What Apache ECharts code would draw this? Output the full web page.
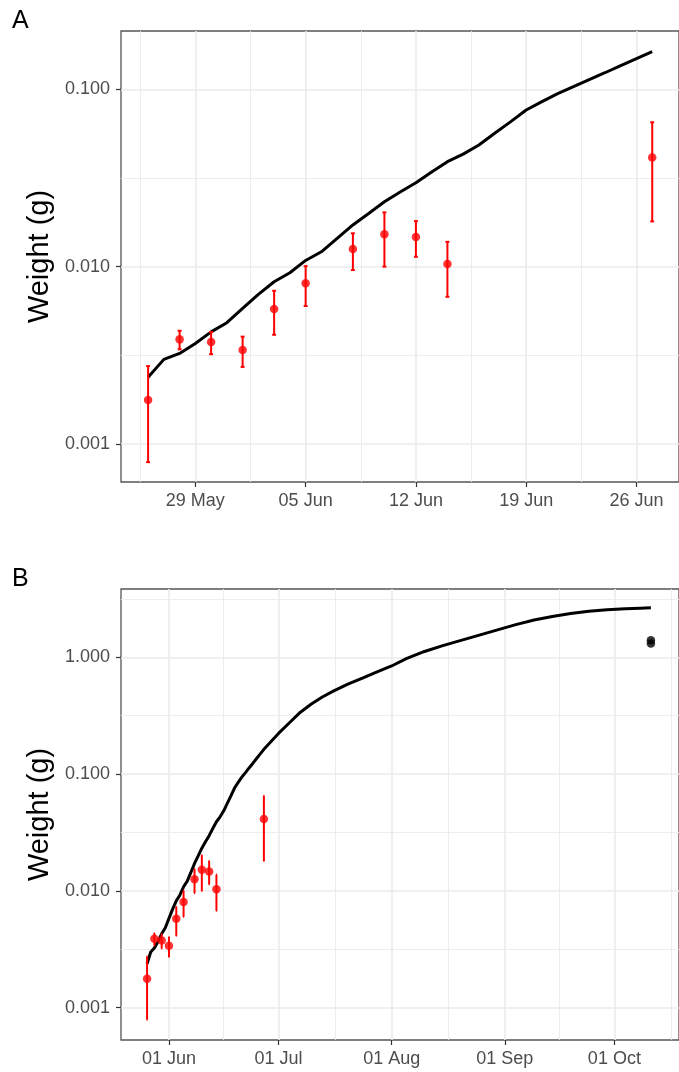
<!DOCTYPE html>
<html><head><meta charset="utf-8">
<script src="https://cdn.jsdelivr.net/npm/echarts@6/dist/echarts.min.js"></script>
<style>html,body{margin:0;padding:0;background:#fff}#c{width:679px;height:1072px}</style>
</head><body><div id="c"></div>
<script>
// ---- data ----
const lineDates = ['2014-05-26','2014-05-27','2014-05-28','2014-05-29','2014-05-30','2014-05-31','2014-06-01','2014-06-02','2014-06-03','2014-06-04','2014-06-05','2014-06-06','2014-06-07','2014-06-08','2014-06-09','2014-06-10','2014-06-11','2014-06-12','2014-06-13','2014-06-14','2014-06-15','2014-06-16','2014-06-17','2014-06-18','2014-06-19','2014-06-20','2014-06-21','2014-06-22','2014-06-23','2014-06-24','2014-06-25','2014-06-26','2014-06-27','2014-07-01','2014-07-04','2014-07-07','2014-07-10','2014-07-13','2014-07-16','2014-07-20','2014-07-24','2014-07-28','2014-08-01','2014-08-05','2014-08-10','2014-08-15','2014-08-20','2014-08-25','2014-08-30','2014-09-04','2014-09-09','2014-09-14','2014-09-19','2014-09-24','2014-09-29','2014-10-04','2014-10-08','2014-10-11'];
const lineValues = [0.00238,0.00300,0.00324,0.00369,0.00429,0.00483,0.00582,0.00698,0.00822,0.00924,0.01084,0.01213,0.01442,0.01718,0.01995,0.02323,0.02636,0.02972,0.0342,0.0391,0.0431,0.0485,0.0565,0.0655,0.0764,0.0853,0.0946,0.1036,0.1135,0.124,0.136,0.149,0.163,0.223,0.275,0.339,0.398,0.457,0.513,0.589,0.664,0.75,0.843,0.973,1.122,1.259,1.396,1.549,1.718,1.905,2.089,2.239,2.371,2.483,2.559,2.606,2.636,2.655];
const pointDates = ['2014-05-26','2014-05-28','2014-05-30','2014-06-01','2014-06-03','2014-06-05','2014-06-08','2014-06-10','2014-06-12','2014-06-14','2014-06-27'];
const pointMeans = [0.00177,0.00389,0.00376,0.00339,0.00577,0.00805,0.01256,0.01521,0.01469,0.01035,0.0413];
const pointLower = [0.00079,0.00342,0.00321,0.00272,0.00413,0.00600,0.00957,0.01000,0.01137,0.00676,0.0180];
const pointUpper = [0.00275,0.00435,0.00428,0.00403,0.00731,0.01007,0.01542,0.02023,0.01807,0.01380,0.0652];
const obsDates = ['2014-10-11','2014-10-11'];
const obsValues = [1.40, 1.31];
const panelAEnd = '2014-06-27';
const xTickDatesA = ['2014-05-29','2014-06-05','2014-06-12','2014-06-19','2014-06-26'];
const xTickLabelsA = ['29 May','05 Jun','12 Jun','19 Jun','26 Jun'];
const xTickDatesB = ['2014-06-01','2014-07-01','2014-08-01','2014-09-01','2014-10-01'];
const xTickLabelsB = ['01 Jun','01 Jul','01 Aug','01 Sep','01 Oct'];
const yTicksA = [0.001, 0.01, 0.1];
const yTicksB = [0.001, 0.01, 0.1, 1];
const panelLabels = ['A', 'B'];
const yTitle = 'Weight (g)';

// ---- helpers ----
const DAY = 864e5;
function ms(s) { const p = s.split('-').map(Number); return Date.UTC(p[0], p[1] - 1, p[2]); }
const FONT = '"Liberation Sans", Arial, sans-serif';
const GRID_MAJOR = '#ebebeb';

function midpoints(vals) {
  const out = [];
  for (let i = 0; i < vals.length - 1; i++) out.push((vals[i] + vals[i + 1]) / 2);
  const first = vals[0] - (vals[1] - vals[0]) / 2;
  const last = vals[vals.length - 1] + (vals[vals.length - 1] - vals[vals.length - 2]) / 2;
  return [first].concat(out, [last]);
}
function monthMidpoints(dates) {
  const v = dates.map(ms);
  const d0 = new Date(v[0]); const prev = Date.UTC(d0.getUTCFullYear(), d0.getUTCMonth() - 1, 1);
  const dl = new Date(v[v.length - 1]); const next = Date.UTC(dl.getUTCFullYear(), dl.getUTCMonth() + 1, 1);
  const all = [prev].concat(v, [next]);
  const out = [];
  for (let i = 0; i < all.length - 1; i++) out.push((all[i] + all[i + 1]) / 2);
  return out;
}
function logMid(ticks) {
  const e = ticks.map(t => Math.log10(t));
  const out = [Math.pow(10, e[0] - 0.5)];
  e.forEach(x => out.push(Math.pow(10, x + 0.5)));
  return out;
}

function majorX(grid, min, max, tickDates, tickLabels) {
  const vals = tickDates.map(ms);
  return {
    type: 'value', gridIndex: grid, min: min, max: max, position: 'bottom', scale: true,
    axisLine: { show: false },
    axisTick: { show: true, length: 5, lineStyle: { color: '#333', width: 1.2 }, customValues: vals },
    axisLabel: {
      customValues: vals, color: '#4d4d4d', fontSize: 18, fontFamily: FONT, margin: 10, hideOverlap: false,
      showMinLabel: true, showMaxLabel: true,
      formatter: function (v) { let best = 0; vals.forEach((x, i) => { if (Math.abs(x - v) < Math.abs(vals[best] - v)) best = i; }); return tickLabels[best]; }
    },
    splitLine: { show: true, lineStyle: { color: GRID_MAJOR, width: 1.6 } }
  };
}
function minorX(grid, min, max, vals) {
  return {
    type: 'value', gridIndex: grid, min: min, max: max, position: 'top', scale: true,
    axisLine: { show: false }, axisTick: { show: false, customValues: vals },
    axisLabel: { show: false, customValues: vals },
    splitLine: { show: true, lineStyle: { color: GRID_MAJOR, width: 0.9 } }
  };
}
function majorY(grid, min, max, ticks) {
  return {
    type: 'log', logBase: 10, gridIndex: grid, min: min, max: max, position: 'left',
    name: yTitle, nameLocation: 'middle', nameGap: 62,
    nameTextStyle: { fontSize: 29, color: '#000', fontFamily: FONT },
    axisLine: { show: false },
    axisTick: { show: true, length: 5, lineStyle: { color: '#333', width: 1.2 }, customValues: ticks },
    axisLabel: { customValues: ticks, color: '#4d4d4d', fontSize: 18, fontFamily: FONT, margin: 11, formatter: v => Number(v).toFixed(3) },
    splitLine: { show: true, lineStyle: { color: GRID_MAJOR, width: 1.6 } },
    minorTick: { show: false }
  };
}
function minorY(grid, min, max, vals) {
  return {
    type: 'log', logBase: 10, gridIndex: grid, min: min, max: max, position: 'right',
    axisLine: { show: false }, axisTick: { show: false, customValues: vals },
    axisLabel: { show: false, customValues: vals },
    splitLine: { show: true, lineStyle: { color: GRID_MAJOR, width: 0.9 } }
  };
}

const CAP_HALF = 0.125 * DAY;
function errRender(params, api) {
  const x = api.value(0), lo = api.value(1), hi = api.value(2);
  const pLo = api.coord([x, lo]), pHi = api.coord([x, hi]);
  const half = api.coord([x + CAP_HALF, hi])[0] - pHi[0];
  const style = { stroke: '#ff0000', lineWidth: 2 };
  return {
    type: 'group', children: [
      { type: 'line', shape: { x1: pHi[0], y1: pHi[1], x2: pLo[0], y2: pLo[1] }, style: style },
      { type: 'line', shape: { x1: pHi[0] - half, y1: pHi[1], x2: pHi[0] + half, y2: pHi[1] }, style: style },
      { type: 'line', shape: { x1: pLo[0] - half, y1: pLo[1], x2: pLo[0] + half, y2: pLo[1] }, style: style }
    ]
  };
}

const lineAll = lineDates.map((d, i) => [ms(d), lineValues[i]]);
const lineA = lineAll.filter(p => p[0] <= ms(panelAEnd));
const pts = pointDates.map((d, i) => [ms(d), pointMeans[i]]);
const errs = pointDates.map((d, i) => [ms(d), pointLower[i], pointUpper[i]]);
const obs = obsDates.map((d, i) => [ms(d), obsValues[i]]);

const xMinA = ms('2014-05-24') + 0.28 * DAY, xMaxA = ms('2014-06-28') + 0.7 * DAY;
const xMinB = ms('2014-05-18') + 0.86 * DAY, xMaxB = ms('2014-10-18') + 0.7 * DAY;
const yMinA = Math.pow(10, -3.2143), yMaxA = Math.pow(10, -0.6712);
const yMinB = Math.pow(10, -3.2765), yMaxB = Math.pow(10, 0.5848);

const minorXA = midpoints(xTickDatesA.map(ms));
const minorXB = monthMidpoints(xTickDatesB);

const chart = echarts.init(document.getElementById('c'), null, { renderer: 'canvas' });
chart.setOption({
  animation: false,
  backgroundColor: '#fff',
  title: [
    { text: panelLabels[0], left: 12, top: 9, padding: 0, textStyle: { fontSize: 25, fontWeight: 'normal', color: '#000', fontFamily: FONT } },
    { text: panelLabels[1], left: 12, top: 567, padding: 0, textStyle: { fontSize: 25, fontWeight: 'normal', color: '#000', fontFamily: FONT } }
  ],
  grid: [
    { left: 121, top: 31, width: 562.6, height: 451, show: true, borderColor: '#555', borderWidth: 1.3, backgroundColor: 'transparent', containLabel: false },
    { left: 121, top: 589, width: 561.7, height: 451, show: true, borderColor: '#555', borderWidth: 1.3, backgroundColor: 'transparent', containLabel: false }
  ],
  xAxis: [
    majorX(0, xMinA, xMaxA, xTickDatesA, xTickLabelsA),
    minorX(0, xMinA, xMaxA, minorXA),
    majorX(1, xMinB, xMaxB, xTickDatesB, xTickLabelsB),
    minorX(1, xMinB, xMaxB, minorXB)
  ],
  yAxis: [
    majorY(0, yMinA, yMaxA, yTicksA),
    minorY(0, yMinA, yMaxA, logMid(yTicksA)),
    majorY(1, yMinB, yMaxB, yTicksB),
    minorY(1, yMinB, yMaxB, logMid(yTicksB))
  ],
  series: [
    { type: 'line', xAxisIndex: 0, yAxisIndex: 0, data: lineA, showSymbol: false, lineStyle: { color: '#000', width: 3 }, z: 3 },
    { type: 'custom', xAxisIndex: 0, yAxisIndex: 0, data: errs, renderItem: errRender, encode: { x: 0, y: [1, 2] }, z: 4 },
    { type: 'scatter', xAxisIndex: 0, yAxisIndex: 0, data: pts, symbolSize: 8.5, itemStyle: { color: '#ff0000' }, z: 5 },
    { type: 'line', xAxisIndex: 2, yAxisIndex: 2, data: lineAll, showSymbol: false, lineStyle: { color: '#000', width: 3 }, z: 3 },
    { type: 'custom', xAxisIndex: 2, yAxisIndex: 2, data: errs, renderItem: errRender, encode: { x: 0, y: [1, 2] }, z: 4 },
    { type: 'scatter', xAxisIndex: 2, yAxisIndex: 2, data: pts, symbolSize: 8.5, itemStyle: { color: '#ff0000' }, z: 5 },
    { type: 'scatter', xAxisIndex: 2, yAxisIndex: 2, data: obs, symbolSize: 8.5, itemStyle: { color: '#000' }, z: 5 }
  ]
});
</script>
</body></html>
